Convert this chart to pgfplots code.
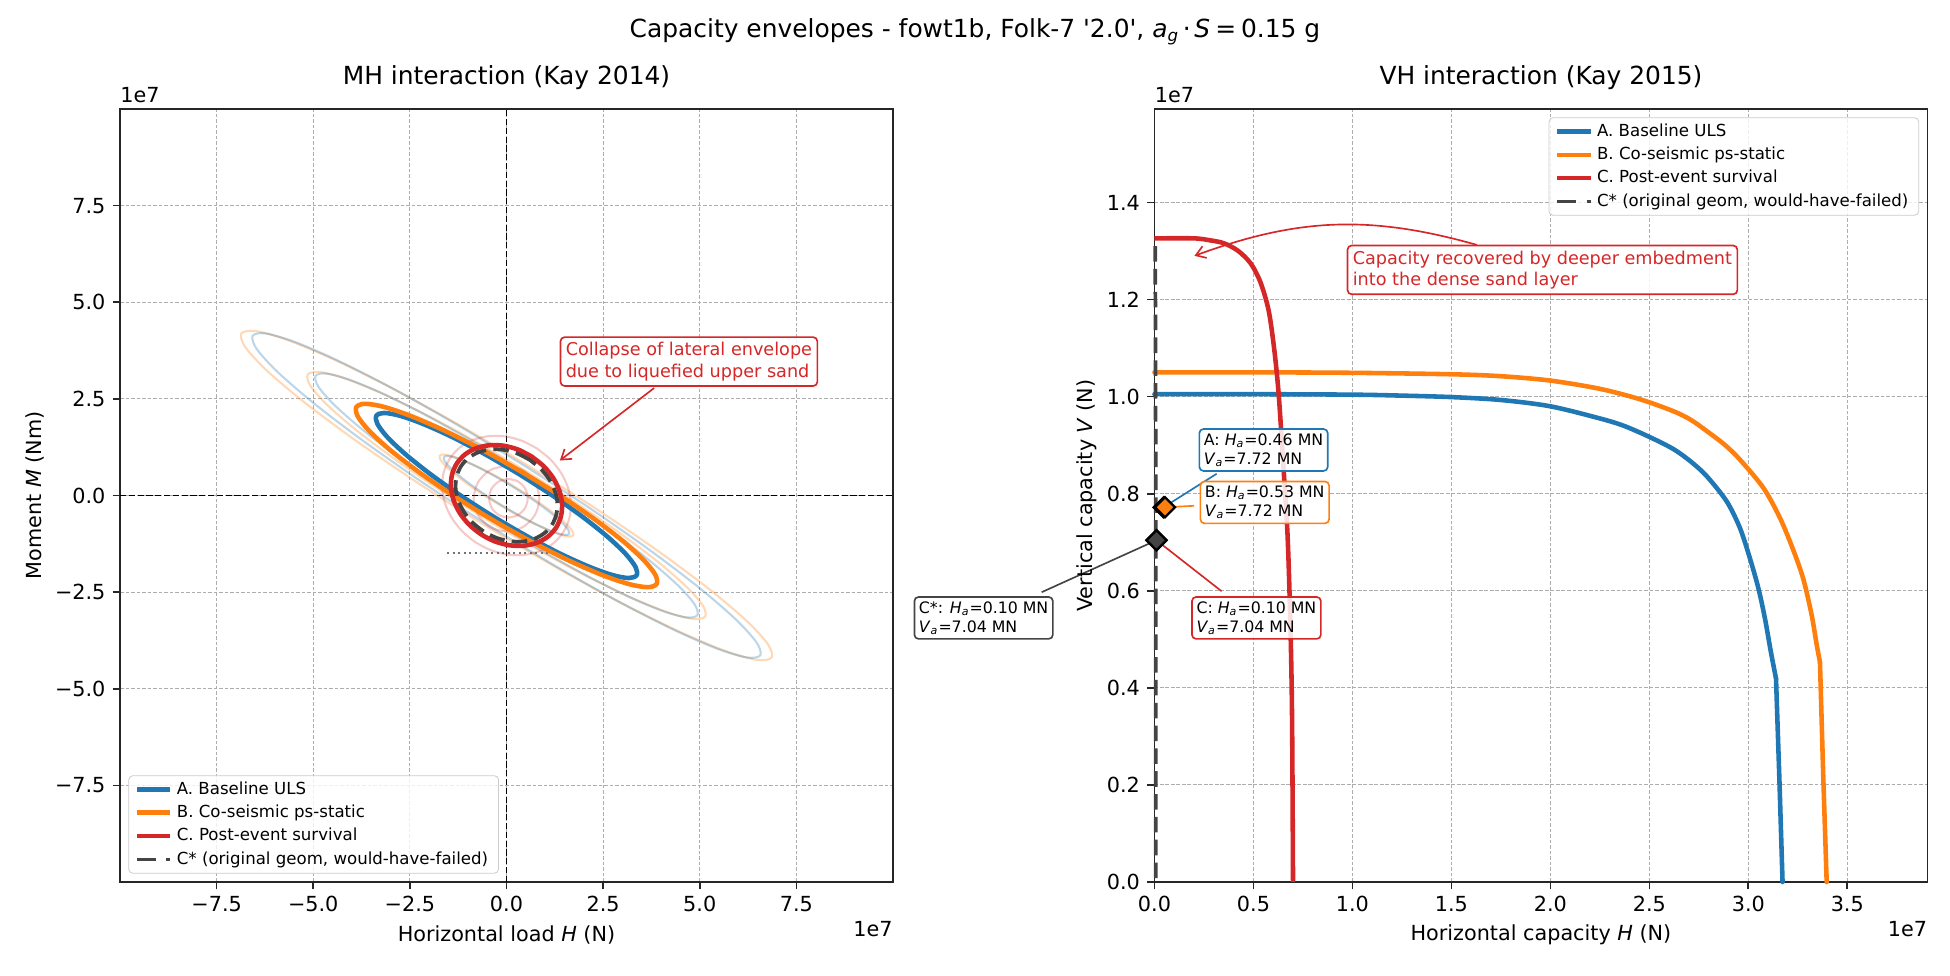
\documentclass[border=0pt]{standalone}
\usepackage{pgfplots}
\pgfplotsset{compat=1.18}
\usepackage{fontspec}
\setmainfont{DejaVu Sans}
\usetikzlibrary{arrows.meta}
\definecolor{tabblue}{HTML}{1F77B4}
\definecolor{taborange}{HTML}{FF7F0E}
\definecolor{tabred}{HTML}{D62728}
\definecolor{cstar}{HTML}{444444}
\definecolor{spine}{HTML}{262626}
\newcommand{\Ha}{\textit{H}\textsubscript{\textit{a}}}
\newcommand{\Va}{\textit{V}\textsubscript{\textit{a}}}
\tikzset{
  boxA/.style={fill=white, fill opacity=0.85, text opacity=1, rounded corners=2pt, line width=0.8pt, align=left, inner sep=2.2pt, font=\fontsize{7.6}{9.1}\selectfont},
}
\pgfplotsset{
  capax/.style={
    scale only axis, width=13.089cm, height=13.089cm,
    anchor=south west, clip=false,
    axis line style={spine, line width=0.8pt},
    tick style={spine, line width=0.8pt},
    tick align=outside, major tick length=3.5pt, tick pos=left,
    xmajorgrids, ymajorgrids,
    grid style={black!32, line width=0.5pt, dash pattern=on 1.85pt off 0.8pt},
    tick label style={font=\fontsize{10}{12}\selectfont},
    title style={at={(0.5,1)}, anchor=base, yshift=6pt, font=\fontsize{12}{14}\selectfont},
    legend style={font=\fontsize{8}{9.6}\selectfont, draw=black!20, rounded corners=2pt,
      fill=white, fill opacity=0.8, text opacity=1, draw opacity=1,
      row sep=-0.3pt, inner xsep=3pt, inner ysep=0.8pt, cells={anchor=west}},
    legend image code/.code={\draw[##1, line cap=butt] (0pt,0pt) -- (16pt,0pt);},
  },
  faint/.style={line width=1pt, opacity=0.3, smooth, forget plot},
  envthick/.style={line width=2.2pt, smooth, line join=round},
  vhline/.style={line width=2.2pt, line join=round, line cap=round},
  cstarleg/.style={legend image code/.code={\draw[cstar, line width=1.8pt, line cap=butt, dash pattern=on 9pt off 5pt] (0pt,0pt) -- (16pt,0pt);}},
}
\begin{document}
\begin{tikzpicture}[x=1cm,y=1cm]
\path[use as bounding box] (0,0) rectangle (33.02,16.51);
\node[anchor=base, font=\fontsize{12}{14}\selectfont] at (16.51,15.868) {Capacity envelopes - fowt1b, Folk-7 \textquotesingle 2.0\textquotesingle, \textit{a}\textsubscript{\textit{g}}\hspace{0.15em}·\hspace{0.15em}\textit{S}\hspace{0.2em}=\hspace{0.2em}0.15 g};

% ================= MH interaction =================
\begin{axis}[capax, at={(2.032cm,1.575cm)},
  xmin=-10, xmax=10, ymin=-10, ymax=10,
  xtick={-7.5,-5,-2.5,0,2.5,5,7.5},
  xticklabels={−7.5,−5.0,−2.5,0.0,2.5,5.0,7.5},
  ytick={-7.5,-5,-2.5,0,2.5,5,7.5},
  yticklabels={−7.5,−5.0,−2.5,0.0,2.5,5.0,7.5},
  title={MH interaction (Kay 2014)},
  legend style={at={(0,0)}, anchor=south west, xshift=4pt, yshift=4pt},
]
\addplot[black, line width=0.8pt, dash pattern=on 2.96pt off 1.28pt, forget plot] coordinates {(-10,0) (10,0)};
\addplot[black, line width=0.8pt, dash pattern=on 2.96pt off 1.28pt, forget plot] coordinates {(0,-10) (0,10)};
% faint envelopes
\addplot[taborange, faint] coordinates {(0.495,0.811) (-1.298,1.867) (-3.002,2.797) (-4.502,3.535) (-5.694,4.034) (-6.500,4.256) (-6.862,4.189) (-6.756,3.836) (-6.190,3.222) (-5.202,2.389) (-3.860,1.393) (-2.254,0.301) (-0.495,-0.811) (1.298,-1.867) (3.002,-2.797) (4.502,-3.535) (5.694,-4.034) (6.500,-4.256) (6.862,-4.189) (6.756,-3.836) (6.190,-3.222) (5.202,-2.389) (3.860,-1.393) (2.254,-0.301) (0.495,0.811)};
\addplot[tabblue, faint] coordinates {(0.480,0.762) (-1.236,1.806) (-2.868,2.728) (-4.305,3.463) (-5.447,3.962) (-6.219,4.191) (-6.567,4.135) (-6.467,3.797) (-5.927,3.200) (-4.983,2.385) (-3.700,1.408) (-2.164,0.334) (-0.480,-0.762) (1.236,-1.806) (2.868,-2.728) (4.305,-3.463) (5.447,-3.962) (6.219,-4.191) (6.567,-4.135) (6.467,-3.797) (5.927,-3.200) (4.983,-2.385) (3.700,-1.408) (2.164,-0.334) (0.480,0.762)};
\addplot[taborange, faint] coordinates {(0.416,0.684) (-0.929,1.470) (-2.212,2.156) (-3.343,2.695) (-4.247,3.050) (-4.861,3.197) (-5.144,3.127) (-5.077,2.843) (-4.663,2.366) (-3.931,1.727) (-2.932,0.972) (-1.733,0.148) (-0.416,-0.684) (0.929,-1.470) (2.212,-2.156) (3.343,-2.695) (4.247,-3.050) (4.861,-3.197) (5.144,-3.127) (5.077,-2.843) (4.663,-2.366) (3.931,-1.727) (2.932,-0.972) (1.733,-0.148) (0.416,0.684)};
\addplot[tabblue, faint] coordinates {(0.399,0.635) (-0.893,1.415) (-2.124,2.099) (-3.210,2.640) (-4.077,3.001) (-4.668,3.156) (-4.939,3.098) (-4.874,2.828) (-4.477,2.365) (-3.774,1.742) (-2.816,0.999) (-1.663,0.189) (-0.399,-0.635) (0.893,-1.415) (2.124,-2.099) (3.210,-2.640) (4.077,-3.001) (4.668,-3.156) (4.939,-3.098) (4.874,-2.828) (4.477,-2.365) (3.774,-1.742) (2.816,-0.999) (1.663,-0.189) (0.399,0.635)};
\addplot[taborange, faint] coordinates {(0.154,0.258) (-0.298,0.515) (-0.731,0.738) (-1.112,0.910) (-1.419,1.020) (-1.628,1.061) (-1.727,1.029) (-1.708,0.927) (-1.573,0.762) (-1.330,0.546) (-0.997,0.292) (-0.596,0.017) (-0.154,-0.258) (0.298,-0.515) (0.731,-0.738) (1.112,-0.910) (1.419,-1.020) (1.628,-1.061) (1.727,-1.029) (1.708,-0.927) (1.573,-0.762) (1.330,-0.546) (0.997,-0.292) (0.596,-0.017) (0.154,0.258)};
\addplot[tabblue, faint] coordinates {(0.146,0.239) (-0.278,0.488) (-0.684,0.704) (-1.043,0.871) (-1.330,0.980) (-1.527,1.021) (-1.620,0.993) (-1.603,0.897) (-1.476,0.740) (-1.249,0.533) (-0.936,0.290) (-0.560,0.026) (-0.146,-0.239) (0.278,-0.488) (0.684,-0.704) (1.043,-0.871) (1.330,-0.980) (1.527,-1.021) (1.620,-0.993) (1.603,-0.897) (1.476,-0.740) (1.249,-0.533) (0.936,-0.290) (0.560,-0.026) (0.146,0.239)};
\addplot[tabred, faint, opacity=0.25] coordinates {(0.790,1.216) (0.383,1.422) (-0.050,1.530) (-0.479,1.534) (-0.876,1.433) (-1.214,1.236) (-1.468,0.953) (-1.622,0.606) (-1.666,0.217) (-1.597,-0.186) (-1.418,-0.576) (-1.143,-0.928) (-0.790,-1.216) (-0.383,-1.422) (0.050,-1.530) (0.479,-1.534) (0.876,-1.433) (1.214,-1.236) (1.468,-0.953) (1.622,-0.606) (1.666,-0.217) (1.597,0.186) (1.418,0.576) (1.143,0.928) (0.790,1.216)};
\addplot[tabred, faint, opacity=0.25] coordinates {(0,0.77) (-0.425,0.656) (-0.736,0.345) (-0.85,-0.08) (-0.736,-0.505) (-0.425,-0.816) (0,-0.93) (0.425,-0.816) (0.736,-0.505) (0.85,-0.08) (0.736,0.345) (0.425,0.656) (0,0.77)};
\addplot[tabred, faint, opacity=0.25] coordinates {(0.05,0.43) (-0.2,0.363) (-0.383,0.18) (-0.45,-0.07) (-0.383,-0.32) (-0.2,-0.503) (0.05,-0.57) (0.3,-0.503) (0.483,-0.32) (0.55,-0.07) (0.483,0.18) (0.3,0.363) (0.05,0.43)};
\addplot[black!55, line width=1pt, dash pattern=on 1pt off 1.65pt, forget plot] coordinates {(-1.53,-1.49) (1.45,-1.49)};
% main envelopes
\addplot[tabblue, envthick] coordinates {(0.336,0.548) (-0.547,1.063) (-1.393,1.507) (-2.144,1.846) (-2.749,2.061) (-3.166,2.136) (-3.368,2.064) (-3.340,1.852) (-3.085,1.513) (-2.620,1.072) (-1.975,0.557) (-1.197,0.005) (-0.336,-0.548) (0.547,-1.063) (1.393,-1.507) (2.144,-1.846) (2.749,-2.061) (3.166,-2.136) (3.368,-2.064) (3.340,-1.852) (3.085,-1.513) (2.620,-1.072) (1.975,-0.557) (1.197,-0.005) (0.336,0.548)};
\addlegendentry{A. Baseline ULS}
\addplot[taborange, envthick] coordinates {(0.369,0.626) (-0.650,1.197) (-1.623,1.687) (-2.487,2.062) (-3.180,2.295) (-3.659,2.373) (-3.886,2.289) (-3.849,2.049) (-3.550,1.669) (-3.009,1.176) (-2.263,0.603) (-1.362,-0.013) (-0.369,-0.626) (0.650,-1.197) (1.623,-1.687) (2.487,-2.062) (3.180,-2.295) (3.659,-2.373) (3.886,-2.289) (3.849,-2.049) (3.550,-1.669) (3.009,-1.176) (2.263,-0.603) (1.362,0.013) (0.369,0.626)};
\addlegendentry{B. Co-seismic ps-static}
\addplot[tabred, envthick] coordinates {(0.654,1.006) (0.300,1.188) (-0.076,1.288) (-0.445,1.300) (-0.784,1.224) (-1.070,1.065) (-1.283,0.833) (-1.408,0.545) (-1.438,0.218) (-1.369,-0.122) (-1.208,-0.454) (-0.964,-0.756) (-0.654,-1.006) (-0.300,-1.188) (0.076,-1.288) (0.445,-1.300) (0.784,-1.224) (1.070,-1.065) (1.283,-0.833) (1.408,-0.545) (1.438,-0.218) (1.369,0.122) (1.208,0.454) (0.964,0.756) (0.654,1.006)};
\addlegendentry{C. Post-event survival}
\addplot[cstar, line width=1.8pt, smooth, dash pattern=on 7.5pt off 3.5pt, cstarleg] coordinates {(0.599,0.923) (0.275,1.089) (-0.068,1.180) (-0.406,1.192) (-0.717,1.122) (-0.979,0.975) (-1.174,0.762) (-1.289,0.497) (-1.317,0.198) (-1.254,-0.114) (-1.106,-0.418) (-0.883,-0.695) (-0.599,-0.923) (-0.275,-1.089) (0.068,-1.180) (0.406,-1.192) (0.717,-1.122) (0.979,-0.975) (1.174,-0.762) (1.289,-0.497) (1.317,-0.198) (1.254,0.114) (1.106,0.418) (0.883,0.695) (0.599,0.923)};
\addlegendentry{C* (original geom, would-have-failed)}
% annotation
\draw[tabred, line width=0.8pt, -{Straight Barb[length=4.5pt,width=6pt]}] (axis cs:3.82,2.78) -- (axis cs:1.38,0.905);
\node[draw=tabred, fill=white, fill opacity=0.85, text opacity=1, text=tabred, rounded corners=2pt, line width=0.8pt, align=left, inner sep=2.55pt, font=\fontsize{8.5}{10.2}\selectfont] at (axis cs:4.72,3.465) {Collapse of lateral envelope\\due to liquefied upper sand};
% labels
\node[font=\fontsize{10}{12}\selectfont] at ([yshift=-25.3pt]rel axis cs:0.5,0) {Horizontal load \textit{H} (N)};
\node[font=\fontsize{10}{12}\selectfont, rotate=90] at ([xshift=-40.8pt]rel axis cs:0,0.5) {Moment \textit{M} (Nm)};
\node[anchor=south west, inner sep=0pt, font=\fontsize{10}{12}\selectfont] at ([yshift=2.9pt]rel axis cs:0,1) {1e7};
\node[anchor=north east, inner sep=0pt, font=\fontsize{10}{12}\selectfont] at ([yshift=-18.7pt]rel axis cs:1,0) {1e7};
\end{axis}

% ================= VH interaction =================
\begin{axis}[capax, at={(19.549cm,1.575cm)},
  xmin=0, xmax=3.905, ymin=0, ymax=1.5925,
  xtick={0,0.5,1,1.5,2,2.5,3,3.5},
  xticklabels={0.0,0.5,1.0,1.5,2.0,2.5,3.0,3.5},
  ytick={0,0.2,0.4,0.6,0.8,1.0,1.2,1.4},
  yticklabels={0.0,0.2,0.4,0.6,0.8,1.0,1.2,1.4},
  title={VH interaction (Kay 2015)},
  legend style={at={(1,1)}, anchor=north east, xshift=-4pt, yshift=-4pt},
]
\addplot[tabblue, vhline, smooth, tension=0.5] coordinates {(0,1.005) (0.5,1.005) (1.0,1.004) (1.25,1.002) (1.5,0.999) (1.75,0.993) (2.0,0.980) (2.25,0.955) (2.37,0.940) (2.5,0.917) (2.621,0.892) (2.71,0.866) (2.79,0.836) (2.891,0.784) (2.958,0.729) (3.008,0.667) (3.051,0.605) (3.084,0.543) (3.114,0.474) (3.140,0.419)};
\addlegendentry{A. Baseline ULS}
\addplot[taborange, vhline, smooth, tension=0.5] coordinates {(0,1.05) (0.5,1.05) (1.0,1.049) (1.5,1.046) (1.75,1.042) (2.0,1.033) (2.25,1.016) (2.453,0.9945) (2.621,0.970) (2.71,0.952) (2.79,0.929) (2.88,0.901) (2.958,0.870) (3.076,0.812) (3.16,0.750) (3.227,0.684) (3.278,0.624) (3.32,0.550) (3.345,0.490) (3.362,0.453)};
\addlegendentry{B. Co-seismic ps-static}
\addplot[tabred, envthick, tension=0.5] coordinates {(0,1.326) (0.2,1.326) (0.28,1.322) (0.35,1.316) (0.42,1.301) (0.485,1.275) (0.535,1.236) (0.577,1.177) (0.606,1.094) (0.628,1.002) (0.653,0.846) (0.673,0.708) (0.687,0.524) (0.695,0.340) (0.700,0.0)};
\addlegendentry{C. Post-event survival}
\addplot[cstar, line width=1.8pt, dash pattern=on 7.5pt off 3.5pt, cstarleg] coordinates {(0.004,1.31) (0.006,0.9) (0.006,0)};
\addlegendentry{C* (original geom, would-have-failed)}
\addplot[tabblue, vhline, forget plot] coordinates {(3.140,0.419) (3.157,0.212) (3.173,0.0)};
\addplot[taborange, vhline, forget plot] coordinates {(3.362,0.453) (3.379,0.212) (3.396,0.0)};
% connectors
\addplot[tabblue, line width=0.8pt, forget plot] coordinates {(0.046,0.772) (0.314,0.841)};
\addplot[taborange, line width=0.8pt, forget plot] coordinates {(0.053,0.772) (0.200,0.775)};
\addplot[tabred, line width=0.8pt, forget plot] coordinates {(0.010,0.704) (0.339,0.599)};
\addplot[cstar, line width=0.8pt, forget plot] coordinates {(0.010,0.704) (-0.570,0.597)};
% design points
\addplot[only marks, mark=square*, mark size=3.4pt, mark options={rotate=45, fill=tabblue, draw=black, line width=1.1pt}, forget plot] coordinates {(0.046,0.772)};
\addplot[only marks, mark=square*, mark size=3.4pt, mark options={rotate=45, fill=taborange, draw=black, line width=1.1pt}, forget plot] coordinates {(0.053,0.772)};
\addplot[only marks, mark=square*, mark size=3.4pt, mark options={rotate=45, fill=tabred, draw=black, line width=1.1pt}, forget plot] coordinates {(0.010,0.704)};
\addplot[only marks, mark=square*, mark size=3.4pt, mark options={rotate=45, fill=cstar, draw=black, line width=1.1pt}, forget plot] coordinates {(0.010,0.704)};
% boxes
\node[boxA, draw=tabblue] at (axis cs:0.551,0.890) {A: \Ha=0.46 MN\\\Va=7.72 MN};
\node[boxA, draw=taborange] at (axis cs:0.557,0.782) {B: \Ha=0.53 MN\\\Va=7.72 MN};
\node[boxA, draw=tabred] at (axis cs:0.515,0.544) {C: \Ha=0.10 MN\\\Va=7.04 MN};
\node[boxA, draw=cstar] at (axis cs:-0.863,0.544) {C*: \Ha=0.10 MN\\\Va=7.04 MN};
% annotation
\draw[tabred, line width=0.8pt, -{Straight Barb[length=4.5pt,width=6pt]}] (axis cs:1.629,1.3125) to[bend right=18] (axis cs:0.202,1.290);
\node[draw=tabred, fill=white, fill opacity=0.85, text opacity=1, text=tabred, rounded corners=2pt, line width=0.8pt, align=left, inner sep=2.55pt, font=\fontsize{8.5}{10.2}\selectfont] at (axis cs:1.96,1.261) {Capacity recovered by deeper embedment\\into the dense sand layer};
% labels
\node[font=\fontsize{10}{12}\selectfont] at ([yshift=-25.3pt]rel axis cs:0.5,0) {Horizontal capacity \textit{H} (N)};
\node[font=\fontsize{10}{12}\selectfont, rotate=90] at ([xshift=-32.6pt]rel axis cs:0,0.5) {Vertical capacity \textit{V} (N)};
\node[anchor=south west, inner sep=0pt, font=\fontsize{10}{12}\selectfont] at ([yshift=2.9pt]rel axis cs:0,1) {1e7};
\node[anchor=north east, inner sep=0pt, font=\fontsize{10}{12}\selectfont] at ([yshift=-18.7pt]rel axis cs:1,0) {1e7};
\end{axis}
\end{tikzpicture}
\end{document}
